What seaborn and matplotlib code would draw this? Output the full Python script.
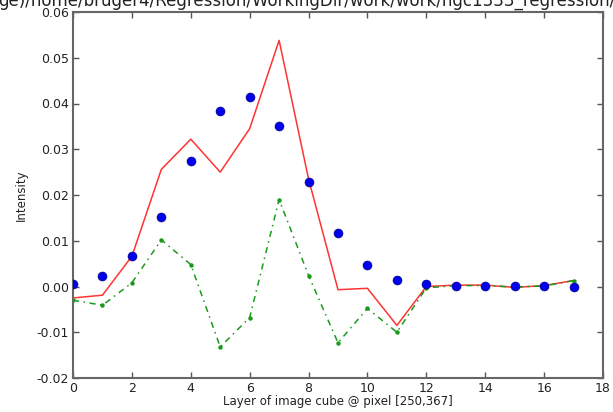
import numpy as np
import pandas as pd
import matplotlib
matplotlib.use("Agg")
import matplotlib.pyplot as plt
import seaborn as sns

# layer index along the cube
layers = list(range(18))

# measured intensity (blue dots)
observed = [0.0005, 0.0023, 0.0066, 0.0153, 0.0275, 0.0384, 0.0415, 0.0350, 0.0228,
            0.0116, 0.0046, 0.0015, 0.0005, 0.0002, 0.0002, 0.0001, 0.0001, 0.0000]

# regression fit (red line)
fitted = [-0.0025, -0.0019, 0.0066, 0.0256, 0.0322, 0.0250, 0.0345, 0.0538, 0.0235,
          -0.0007, -0.0004, -0.0085, 0.0000, 0.0003, 0.0003, -0.0002, 0.0002, 0.0013]

# residual component (green dash-dot)
residual = [-0.0030, -0.0041, 0.0008, 0.0102, 0.0048, -0.0132, -0.0068, 0.0190, 0.0024,
            -0.0123, -0.0048, -0.0100, -0.0003, 0.0002, 0.0002, -0.0001, 0.0001, 0.0013]

title_txt = "ge)/home/bruger4/Regression/WorkingDir/work/work/ngc1333_regression/"

df = pd.DataFrame({"layer": layers, "observed": observed,
                   "fitted": fitted, "residual": residual})

sns.set_style("ticks")
plt.rcParams["font.family"] = ["DejaVu Sans"]

fig = plt.figure(figsize=(6.13, 4.12), dpi=100)
ax = fig.add_axes([73 / 613, 34 / 412, 530 / 613, 366 / 412])

sns.lineplot(data=df, x="layer", y="fitted", color="#ff3333", linewidth=1.1, ax=ax)
sns.lineplot(data=df, x="layer", y="residual", color="#1a9a1a", linewidth=1.1,
             dashes=False, marker="o", markersize=3.2, markeredgewidth=0, ax=ax)
ax.lines[-1].set_linestyle((0, (4, 3, 1, 3)))
sns.scatterplot(data=df, x="layer", y="observed", color="#0000ee", s=42,
                edgecolor="#000066", linewidth=0.4, zorder=5, ax=ax)

ax.set_xlim(0, 18)
ax.set_ylim(-0.02, 0.06)
ax.set_xticks(np.arange(0, 19, 2))
ax.set_yticks(np.arange(-0.02, 0.061, 0.01))
ax.set_yticklabels([f"{v:.2f}" for v in np.arange(-0.02, 0.061, 0.01)])

ax.tick_params(direction="in", top=True, right=True, length=4, width=1,
               labelsize=9, colors="#555555", labelcolor="#222222", pad=3)
for sp in ax.spines.values():
    sp.set_color("#666666")
    sp.set_linewidth(1.5)

ax.set_xlabel("Layer of image cube @ pixel [250,367]", fontsize=8.5, labelpad=0, color="#222222")
ax.set_ylabel("Intensity", fontsize=8.5, labelpad=6, color="#222222")

fig.text(-0.003, 1 - 6 / 412, title_txt, ha="left", va="baseline",
         fontsize=12, color="#222222")

fig.savefig("out.png", dpi=100)
